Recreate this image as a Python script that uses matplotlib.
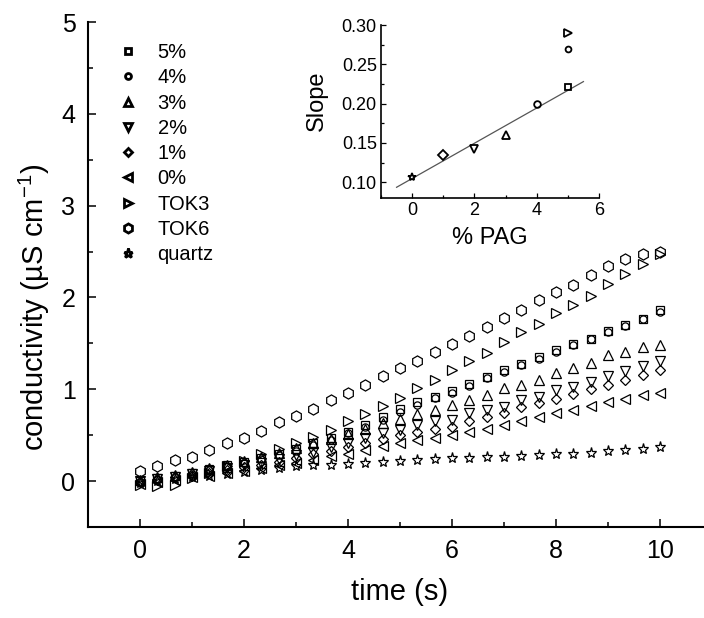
import numpy as np
import matplotlib
matplotlib.use("Agg")
import matplotlib.pyplot as plt
from matplotlib.lines import Line2D
from matplotlib.ticker import MultipleLocator

plt.rcParams['font.family'] = ['Liberation Sans', 'DejaVu Sans']
plt.rcParams['mathtext.fontset'] = 'custom'
plt.rcParams['mathtext.rm'] = 'Liberation Sans'
plt.rcParams['mathtext.default'] = 'regular'

# ---- conductivity vs time ----
time = [0.0, 0.33, 0.67, 1.0, 1.33, 1.67, 2.0, 2.33, 2.67, 3.0, 3.33, 3.67, 4.0, 4.33,
        4.67, 5.0, 5.33, 5.67, 6.0, 6.33, 6.67, 7.0, 7.33, 7.67, 8.0, 8.33, 8.67, 9.0,
        9.33, 9.67, 10.0]

pag5 = [0.00, 0.03, 0.06, 0.09, 0.13, 0.17, 0.21, 0.25, 0.30, 0.35, 0.41, 0.47, 0.54, 0.61,
        0.70, 0.78, 0.86, 0.92, 0.98, 1.06, 1.13, 1.21, 1.27, 1.35, 1.43, 1.49, 1.55, 1.63,
        1.70, 1.77, 1.86]
pag4 = [-0.01, 0.02, 0.05, 0.08, 0.12, 0.16, 0.20, 0.24, 0.28, 0.33, 0.39, 0.45, 0.52, 0.59,
        0.67, 0.75, 0.83, 0.90, 0.96, 1.04, 1.12, 1.19, 1.26, 1.33, 1.41, 1.48, 1.55, 1.62,
        1.69, 1.76, 1.84]
pag3 = [0.01, 0.04, 0.07, 0.10, 0.14, 0.18, 0.22, 0.26, 0.31, 0.36, 0.41, 0.46, 0.51, 0.57,
        0.63, 0.68, 0.73, 0.77, 0.83, 0.88, 0.94, 1.01, 1.05, 1.10, 1.18, 1.23, 1.29, 1.37,
        1.41, 1.46, 1.48]
pag2 = [0.00, 0.02, 0.05, 0.08, 0.11, 0.14, 0.17, 0.20, 0.24, 0.28, 0.32, 0.37, 0.42, 0.47,
        0.52, 0.56, 0.61, 0.65, 0.67, 0.74, 0.77, 0.81, 0.88, 0.92, 0.99, 1.02, 1.08, 1.15,
        1.20, 1.25, 1.31]
pag1 = [-0.01, 0.01, 0.04, 0.06, 0.09, 0.12, 0.15, 0.18, 0.21, 0.25, 0.29, 0.33, 0.37, 0.42,
        0.46, 0.50, 0.54, 0.57, 0.59, 0.65, 0.70, 0.74, 0.81, 0.85, 0.89, 0.95, 1.00, 1.05,
        1.10, 1.16, 1.21]
pag0 = [-0.03, -0.01, 0.01, 0.04, 0.06, 0.09, 0.11, 0.14, 0.17, 0.20, 0.23, 0.27, 0.30, 0.34,
        0.38, 0.41, 0.45, 0.47, 0.50, 0.54, 0.57, 0.61, 0.65, 0.70, 0.74, 0.77, 0.82, 0.86,
        0.89, 0.94, 0.96]
tok3 = [-0.04, -0.05, -0.04, 0.03, 0.09, 0.16, 0.22, 0.29, 0.35, 0.42, 0.48, 0.56, 0.65, 0.73,
        0.82, 0.90, 1.01, 1.10, 1.21, 1.31, 1.40, 1.51, 1.62, 1.71, 1.83, 1.92, 2.02, 2.15,
        2.26, 2.36, 2.47]
tok6 = [0.11, 0.16, 0.23, 0.26, 0.34, 0.42, 0.47, 0.55, 0.64, 0.71, 0.78, 0.88, 0.96, 1.05,
        1.14, 1.23, 1.31, 1.41, 1.49, 1.58, 1.68, 1.78, 1.86, 1.97, 2.06, 2.14, 2.24, 2.34,
        2.42, 2.47, 2.50]
quartz = [-0.02, 0.00, 0.02, 0.04, 0.06, 0.08, 0.10, 0.12, 0.14, 0.16, 0.17, 0.18, 0.19, 0.20,
          0.21, 0.22, 0.23, 0.24, 0.25, 0.25, 0.26, 0.26, 0.27, 0.28, 0.30, 0.30, 0.31, 0.33,
          0.34, 0.35, 0.37]

labels = ['5%', '4%', '3%', '2%', '1%', '0%', 'TOK3', 'TOK6', 'quartz']
series = [pag5, pag4, pag3, pag2, pag1, pag0, tok3, tok6, quartz]
markers = ['s', 'o', '^', 'v', 'D', '<', '>', 'h', '*']
sizes = [5.8, 5.2, 7, 7, 5.0, 7, 7, 8, 8]

# ---- slope vs PAG content (inset) ----
pag_content = [0, 1, 2, 3, 4, 5]
pag_slope = [0.107, 0.1345, 0.1425, 0.160, 0.200, 0.221]
pag_marker = ['*', 'D', 'v', '^', 'o', 's']
tok_content = [5, 5]
tok_slope = [0.290, 0.269]
tok_marker = ['>', 'o']

fig = plt.figure(figsize=(7.04, 6.18), dpi=100)
ax = fig.add_axes([88 / 704, 91 / 618, (712 - 88) / 704, 505 / 618])

for vals, m, s in zip(series, markers, sizes):
    ax.plot(time, vals, linestyle='none', marker=m, markersize=s,
            markerfacecolor='none', markeredgecolor='black', markeredgewidth=0.9)

ax.set_xlim(-1, 11)
ax.set_ylim(-0.5, 5)
ax.xaxis.set_major_locator(MultipleLocator(2))
ax.xaxis.set_minor_locator(MultipleLocator(1))
ax.yaxis.set_major_locator(MultipleLocator(1))
ax.yaxis.set_minor_locator(MultipleLocator(0.5))
ax.set_yticks([0, 1, 2, 3, 4, 5])
for side in ['top', 'right']:
    ax.spines[side].set_visible(False)
for side in ['left', 'bottom']:
    ax.spines[side].set_linewidth(1.5)
ax.tick_params(which='major', direction='in', length=6, width=1.1, labelsize=18, pad=9)
ax.tick_params(which='minor', direction='in', length=3.5, width=1.1)

ax.set_xlabel('time (s)', fontsize=21)
ax.set_ylabel('conductivity (µS cm$^{-1}$)', fontsize=21)
ax.yaxis.set_label_coords(-0.058, 0.436)
ax.xaxis.set_label_coords(0.5, -0.10)

handles = [Line2D([], [], linestyle='none', marker=m, markersize=s * 0.82,
                  markerfacecolor='none', markeredgecolor='black', markeredgewidth=2.0)
           for m, s in zip(markers, sizes)]
ax.legend(handles, labels, loc='upper left', bbox_to_anchor=(0.042, 0.966),
          frameon=False, fontsize=14.5, handlelength=1.0, handletextpad=0.95,
          labelspacing=0.31, borderpad=0.2, borderaxespad=0)

# inset
axi = fig.add_axes([381 / 704, (618 - 198) / 618, (599 - 381) / 704, (198 - 25) / 618])
fit = np.polyfit(pag_content, pag_slope, 1)
xfit = np.array([-0.5, 5.5])
axi.plot(xfit, np.polyval(fit, xfit), color='#555555', linewidth=0.9)
for x, y, m in zip(pag_content, pag_slope, pag_marker):
    axi.plot(x, y, linestyle='none', marker=m, markersize=6 if m in '*^v>' else 4.8,
             markerfacecolor='none', markeredgecolor='black', markeredgewidth=1.3)
for x, y, m in zip(tok_content, tok_slope, tok_marker):
    axi.plot(x, y, linestyle='none', marker=m, markersize=5.5 if m == '>' else 4.2,
             markerfacecolor='none', markeredgecolor='black', markeredgewidth=1.3)
axi.set_xlim(-1, 6)
axi.set_ylim(0.08, 0.30)
axi.set_xticks([0, 2, 4, 6])
axi.xaxis.set_minor_locator(MultipleLocator(1))
axi.set_yticks([0.10, 0.15, 0.20, 0.25, 0.30])
axi.yaxis.set_minor_locator(MultipleLocator(0.025))
axi.set_yticklabels(['0.10', '0.15', '0.20', '0.25', '0.30'])
for side in ['top', 'right']:
    axi.spines[side].set_visible(False)
for side in ['left', 'bottom']:
    axi.spines[side].set_linewidth(1.2)
axi.tick_params(which='major', direction='in', length=3.5, width=0.9, labelsize=13, pad=3)
axi.tick_params(which='minor', direction='in', length=2, width=0.9)
axi.set_xlabel('% PAG', fontsize=17)
axi.set_ylabel('Slope', fontsize=17)
axi.xaxis.set_label_coords(0.5, -0.17)
axi.yaxis.set_label_coords(-0.245, 0.56)
axi.patch.set_alpha(0)

fig.savefig('out.png', dpi=100)
